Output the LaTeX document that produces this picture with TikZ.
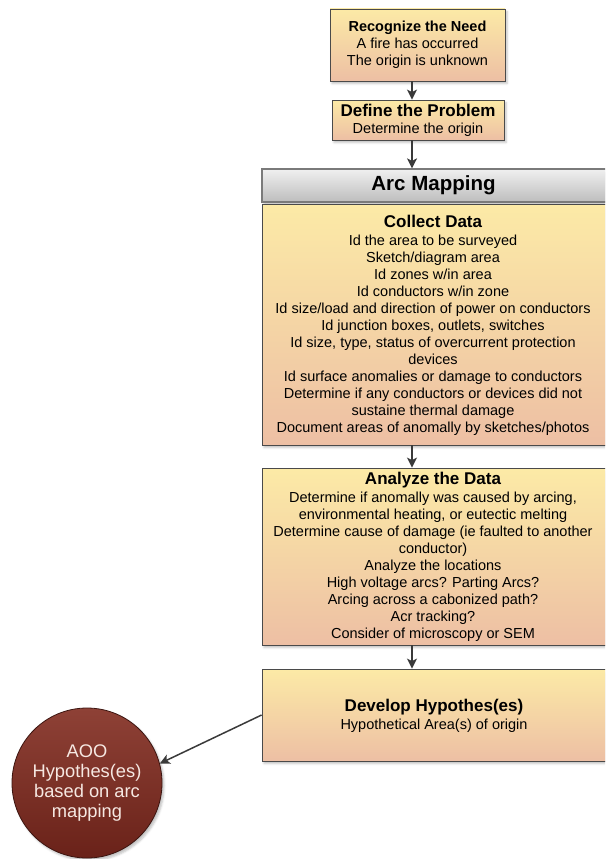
\documentclass[tikz,border=0pt]{standalone}
\usepackage{fontspec}
\setmainfont{Liberation Sans}
\usetikzlibrary{arrows.meta,shadows.blur}
\definecolor{boxtop}{HTML}{FCEAA6}
\definecolor{boxbot}{HTML}{EDBFA4}
\definecolor{edgec}{HTML}{4A4A4A}
\definecolor{arrowc}{HTML}{3A3A3A}
\definecolor{hdrtop}{HTML}{F0F0F0}
\definecolor{hdrbot}{HTML}{BDBDBD}
\definecolor{hdredge}{HTML}{7A7A7A}
\definecolor{circtop}{HTML}{8E4136}
\definecolor{circbot}{HTML}{6A2219}
\definecolor{circedge}{HTML}{3C1510}
\definecolor{circtext}{HTML}{F6E8E2}
\begin{document}
\begin{tikzpicture}[x=1pt,y=-1pt,
  softshadow/.style={blur shadow={shadow xshift=2pt, shadow yshift=-2.5pt, shadow opacity=25, shadow blur steps=4}},
  stepbox/.style={draw=edgec, line width=0.8pt, top color=boxtop, bottom color=boxbot,
    align=center, inner sep=0pt, font=\fontsize{14.5}{17}\selectfont, softshadow},
  boxtext/.style={align=center, inner sep=0pt, font=\fontsize{14.5}{17}\selectfont},
  hdrbox/.style={draw=hdredge, line width=1.2pt, top color=hdrtop, bottom color=hdrbot,
    inner sep=0pt, softshadow},
  hdrtext/.style={inner sep=0pt, font=\fontsize{20.5}{22}\selectfont\bfseries},
  endcirc/.style={circle, draw=circedge, line width=0.8pt, top color=circtop, bottom color=circbot,
    align=center, inner sep=0pt, text=circtext, font=\fontsize{18.3}{20.3}\selectfont, softshadow},
  conn/.style={draw=arrowc, line width=1.5pt, -{Stealth[length=10pt,width=10pt,inset=2.5pt]}}]
\useasboundingbox (0,0) rectangle (605,859);
\clip (0,0) rectangle (605,859);
\coordinate (ax) at (412,0);

\node[stepbox, minimum width=175pt, minimum height=72pt] (need) at (417.5,45)
  {{\bfseries Recognize the Need}\\A fire has occurred\\The origin is unknown};

\node[stepbox, minimum width=172pt, minimum height=40pt] (prob) at (418,120)
  {{\fontsize{17}{17}\selectfont\bfseries Define the Problem}\\Determine the origin};

\node[hdrbox, minimum width=348pt, minimum height=33pt] (hdr) at (436,185.5) {};
\node[hdrtext] (hdrT) at (433.5,185.5) {Arc Mapping};

\node[stepbox, minimum width=348pt, minimum height=241pt] (coll) at (436,324.5) {};
\node[boxtext] (collT) at (433,325)
  {{\fontsize{17}{17}\selectfont\bfseries Collect Data}\\[1pt]
   Id the area to be surveyed\\
   Sketch/diagram area\\
   Id zones w/in area\\
   Id conductors w/in zone\\
   Id size/load and direction of power on conductors\\
   Id junction boxes, outlets, switches\\
   Id size, type, status of overcurrent protection\\
   devices\\
   Id surface anomalies or damage to conductors\\
   Determine if any conductors or devices did not\\
   sustaine thermal damage\\
   Document areas of anomally by sketches/photos};

\node[stepbox, minimum width=348pt, minimum height=177pt] (anal) at (436,556.5) {};
\node[boxtext] (analT) at (433,556.5)
  {{\fontsize{17}{17}\selectfont\bfseries Analyze the Data}\\[1pt]
   Determine if anomally was caused by arcing,\\
   environmental heating, or eutectic melting\\
   Determine cause of damage (ie faulted to another\\
   conductor)\\
   Analyze the locations\\
   High voltage arcs? Parting Arcs?\\
   Arcing across a cabonized path?\\
   Acr tracking?\\
   Consider of microscopy or SEM};

\node[stepbox, minimum width=348pt, minimum height=92pt] (dev) at (436,715) {};
\node[boxtext] (devT) at (434,716)
  {{\fontsize{17}{17}\selectfont\bfseries Develop Hypothes(es)}\\[1pt]Hypothetical Area(s) of origin};

\node[endcirc, minimum size=150pt] (aoo) at (87,783)
  {AOO\\Hypothes(es)\\based on arc\\mapping};

\draw[conn] (need.south -| ax) -- (prob.north -| ax);
\draw[conn] (prob.south -| ax) -- (hdr.north -| ax);
\draw[conn] (coll.south -| ax) -- (anal.north -| ax);
\draw[conn] (anal.south -| ax) -- (dev.north -| ax);
\draw[conn] (dev.west) -- (aoo.15);
\end{tikzpicture}
\end{document}
